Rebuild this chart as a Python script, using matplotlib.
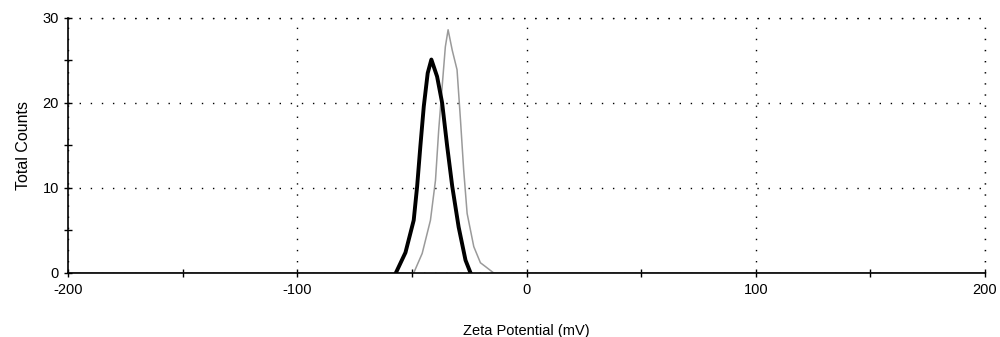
import numpy as np
import matplotlib.pyplot as plt
from matplotlib.ticker import MultipleLocator

plt.rcParams['font.family'] = ['Liberation Sans', 'DejaVu Sans']
plt.rcParams['axes.unicode_minus'] = False

# Sample 1 (black, thick)
zeta_a = [-57.0, -52.8, -49.2, -47.7, -46.3, -44.8, -43.1, -41.5, -39.0, -36.8,
          -34.6, -32.4, -29.6, -26.6, -24.4]
counts_a = [0.0, 2.4, 6.2, 10.2, 14.9, 19.6, 23.5, 25.1, 23.1, 20.0,
            14.9, 10.2, 5.4, 1.5, 0.0]

# Sample 2 (grey, thin)
zeta_b = [-200, -49.2, -45.5, -41.9, -39.7, -38.3, -36.8, -35.4, -34.2, -32.4,
          -30.3, -28.8, -27.4, -25.9, -23.0, -20.1, -17.9, -14.3, 200]
counts_b = [0.0, 0.0, 2.3, 6.2, 10.9, 16.8, 21.9, 26.6, 28.6, 26.2,
            23.9, 18.0, 12.1, 7.0, 3.1, 1.2, 0.75, 0.0, 0.0]

fig = plt.figure(figsize=(10, 3.37), dpi=100)
ax = fig.add_axes([0.068, 0.19, 0.917, 0.757])

ax.plot(zeta_b, counts_b, color='#9a9a9a', lw=1.1)
ax.plot(zeta_a, counts_a, color='black', lw=2.8)

ax.set_xlim(-200, 200)
ax.set_ylim(0, 30)
ax.xaxis.set_major_locator(MultipleLocator(100))
ax.xaxis.set_minor_locator(MultipleLocator(50))
ax.yaxis.set_major_locator(MultipleLocator(10))
ax.yaxis.set_minor_locator(MultipleLocator(5))
ax.tick_params(which='both', direction='inout', length=6, width=1, labelsize=10.5, colors='black')
ax.tick_params(axis='x', pad=4)

for s in ['top', 'right']:
    ax.spines[s].set_visible(False)
for s in ['left', 'bottom']:
    ax.spines[s].set_linewidth(1.2)

ax.grid(True, which='major', color='black', linestyle=(0, (1, 7)), linewidth=1.0)
ax.axhline(30, color='black', linestyle=(0, (1, 7)), linewidth=1.0, clip_on=False)
ax.axvline(200, color='black', linestyle=(0, (1, 7)), linewidth=1.0, clip_on=False)

ax.set_xlabel('Zeta Potential (mV)', fontsize=10.5, labelpad=20)
ax.set_ylabel('Total Counts', fontsize=11.5, labelpad=8)

fig.savefig('out.png', dpi=100)
